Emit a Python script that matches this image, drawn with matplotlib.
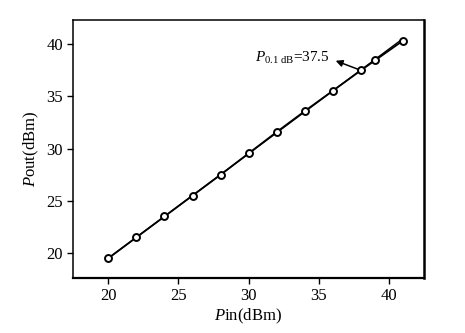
import matplotlib
matplotlib.use('Agg')
import matplotlib.pyplot as plt

# measured output power vs input power
pin = [20, 22, 24, 26, 28, 30, 32, 34, 36, 38, 39, 41]
pout = [19.5, 21.5, 23.5, 25.5, 27.5, 29.55, 31.6, 33.6, 35.55, 37.5, 38.45, 40.35]

# ideal linear gain line
ideal_pin = [20, 41]
ideal_pout = [19.5, 40.55]

p1db_label = r'$P_{\mathrm{0.1\ dB}}$=37.5'
p1db_point = (38, 37.5)
p1db_tip = (36.2, 38.42)

xticks = [20, 25, 30, 35, 40]
yticks = [20, 25, 30, 35, 40]

plt.rcParams['font.family'] = 'Liberation Serif'
plt.rcParams['mathtext.fontset'] = 'custom'
plt.rcParams['mathtext.rm'] = 'Liberation Serif'
plt.rcParams['mathtext.it'] = 'Liberation Serif:italic'

fig = plt.figure(figsize=(4.65, 3.33), dpi=100)
ax = fig.add_axes([0.1563, 0.165, 0.7557, 0.776])

ax.plot(ideal_pin, ideal_pout, color='black', lw=1.0)
ax.plot(pin, pout, color='black', lw=1.3, marker='o', markersize=5.0,
        markerfacecolor='white', markeredgecolor='black', markeredgewidth=1.4)

ax.annotate('', xy=p1db_tip, xytext=p1db_point,
            arrowprops=dict(arrowstyle='-|>', color='black', lw=1.1,
                            mutation_scale=10, shrinkA=2, shrinkB=0))
ax.text(35.75, 38.33, p1db_label, ha='right', va='baseline', fontsize=11)

ax.set_xlim(17.46, 42.5)
ax.set_ylim(17.6, 42.36)
ax.set_xticks(xticks)
ax.set_yticks(yticks)
ax.tick_params(direction='out', length=4, width=1.0, labelsize=12, pad=3)
ax.set_xlabel(r'$P$in(dBm)', fontsize=12, labelpad=2)
ax.set_ylabel(r'$P$out(dBm)', fontsize=12, labelpad=4)

for s in ['left', 'top']:
    ax.spines[s].set_linewidth(1.1)
ax.spines['right'].set_linewidth(1.8)
ax.spines['bottom'].set_linewidth(1.6)

plt.savefig('out.png', dpi=100)
